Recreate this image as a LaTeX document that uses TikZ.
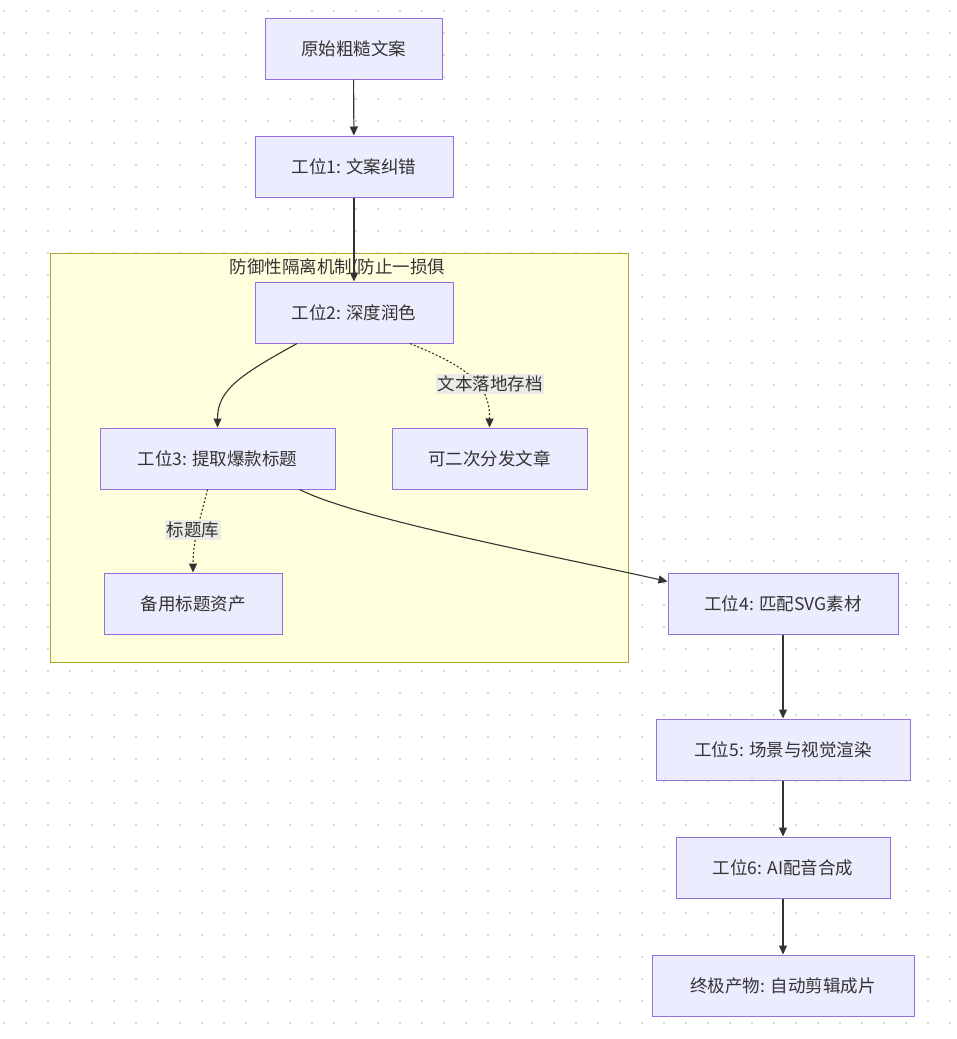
\documentclass[tikz,border=0pt]{standalone}
\usepackage{fontspec}
\setmainfont{Noto Sans CJK SC}
\usetikzlibrary{arrows.meta}
\definecolor{nodefill}{HTML}{ECECFF}
\definecolor{nodeline}{HTML}{9370DB}
\definecolor{edgecol}{HTML}{333333}
\definecolor{clfill}{HTML}{FFFFDE}
\definecolor{clline}{HTML}{AAAA33}
\definecolor{lblbg}{HTML}{E8E8E8}
\definecolor{dotcol}{HTML}{D8D8D8}
\tikzset{
  box/.style={draw=nodeline, fill=nodefill, line width=1pt, minimum height=61pt, inner sep=0pt, font=\fontsize{17.5}{20}\selectfont, text=edgecol},
  flow/.style={draw=edgecol, line width=1.1pt, -{Triangle[length=9pt,width=8pt]}},
  dotflow/.style={flow, dash pattern=on 2pt off 2pt},
  elabel/.style={fill=lblbg, fill opacity=0.9, text opacity=1, inner sep=1.5pt, font=\fontsize{17.5}{20}\selectfont, text=edgecol}
}
\begin{document}
\begin{tikzpicture}[x=1pt,y=-1pt]
\useasboundingbox (0,0) rectangle (957,1039);
\fill[white] (0,0) rectangle (957,1039);
% dot grid
\foreach \i in {0,...,43} {
  \foreach \j in {0,...,47} {
    \fill[dotcol] ({4+22*\i-0.8},{11+22*\j-0.8}) rectangle ++(1.6,1.6);
  }
}
% cluster
\draw[draw=clline, fill=clfill, line width=1pt] (50,253) rectangle (628,662);
\node[font=\fontsize{17.5}{20}\selectfont, text=edgecol, anchor=west] (cl) at (226,268) {防御性隔离机制(防止一损俱};
% nodes
\node[box, minimum width=177pt] (n0) at (353.5,48.5) {原始粗糙文案};
\node[box, minimum width=198pt] (n1) at (354,166.5) {工位1: 文案纠错};
\node[box, minimum width=198pt] (n2) at (354,312.5) {工位2: 深度润色};
\node[box, minimum width=235pt] (n3) at (217.5,458.5) {工位3: 提取爆款标题};
\node[box, minimum width=195pt] (na) at (489.5,458.5) {可二次分发文章};
\node[box, minimum width=178pt] (nb) at (193,603.5) {备用标题资产};
\node[box, minimum width=230pt] (n4) at (783,603.5) {工位4: 匹配SVG素材};
\node[box, minimum width=254pt] (n5) at (783,749.5) {工位5: 场景与视觉渲染};
\node[box, minimum width=214pt] (n6) at (783,867.5) {工位6: AI配音合成};
\node[box, minimum width=262pt] (n7) at (783,985.5) {终极产物: 自动剪辑成片};
% edges
\draw[flow] (n0) -- (n1);
\draw[flow] (n1) -- (n2);
\draw[flow] ([xshift=-57pt]n2.south) .. controls (240,375) and (217.5,390) .. (n3.north);
\draw[dotflow] ([xshift=56pt]n2.south) .. controls (470,368) and (490,385) .. (na.north);
\node[elabel] (la) at (490,384) {文本落地存档};
\draw[dotflow] ([xshift=-10pt]n3.south) .. controls (200,520) and (193,540) .. (nb.north);
\node[elabel] (lb) at (193,530) {标题库};
\draw[flow] ([xshift=82pt]n3.south) .. controls (360,520) and (560,557) .. ([yshift=22pt]n4.west);
\draw[flow] (n4) -- (n5);
\draw[flow] (n5) -- (n6);
\draw[flow] (n6) -- (n7);
\end{tikzpicture}
\end{document}
